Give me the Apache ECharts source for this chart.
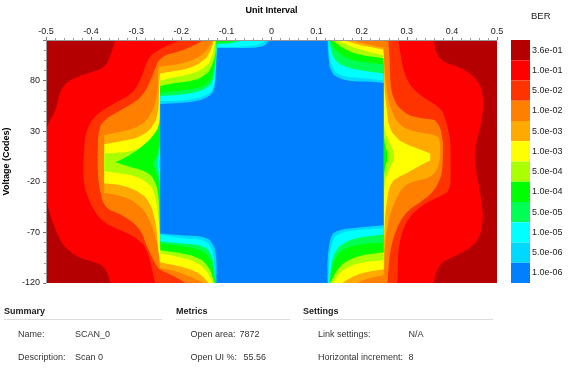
<!DOCTYPE html>
<html>
<head>
<meta charset="utf-8">
<style>html,body{margin:0;padding:0;background:#fff}#c{width:574px;height:370px}</style>
<script src="https://cdn.jsdelivr.net/npm/echarts@6/dist/echarts.min.js"></script>
</head>
<body>
<div id="c"></div>
<script>
const berLabels = ['3.6e-01','1.0e-01','5.0e-02','1.0e-02','5.0e-03','1.0e-03','5.0e-04','1.0e-04','5.0e-05','1.0e-05','5.0e-06','1.0e-06'];
const berColors = ['#b40000','#ff0000','#ff3300','#ff8000','#ffaa00','#ffff00','#aaff00','#00ff00','#00ff55','#00ffff','#00d9ff','#0080ff'];
const xTicks = {min:-0.5,max:0.5,step:0.1};
const yTicks = {min:-120,max:120,step:50};

// Contour boundaries: [unit interval, voltage code], top to bottom.
const edge1Left = [[-0.346,120],[-0.366,93],[-0.442,82],[-0.468,72.5],[-0.479,48],[-0.5,36],[-0.5,-35],[-0.49,-55],[-0.464,-82.7],[-0.431,-94.6],[-0.369,-102.5],[-0.357,-120]];
const edge1Right = [[0.359,120],[0.37,100],[0.425,92],[0.459,80],[0.47,65.6],[0.47,51],[0.463,34],[0.45,11],[0.452,-5.6],[0.463,-31],[0.47,-55],[0.463,-75],[0.441,-85.7],[0.397,-95.6],[0.374,-99.6],[0.359,-117.4],[0.361,-120]];
const edge2Left = [[-0.202,120],[-0.253,110],[-0.275,102],[-0.284,87],[-0.306,67.6],[-0.364,53.7],[-0.395,44],[-0.413,28],[-0.417,1],[-0.417,-21.4],[-0.406,-38],[-0.38,-58],[-0.346,-66],[-0.318,-71],[-0.291,-78],[-0.275,-87.7],[-0.267,-102.5],[-0.258,-120]];
const edge2Right = [[0.281,120],[0.292,90],[0.308,73.5],[0.345,60.7],[0.374,53.7],[0.385,44],[0.397,21],[0.397,-28.4],[0.381,-33],[0.341,-41],[0.308,-53],[0.29,-68],[0.281,-88],[0.279,-120]];
const edge3Left = [[-0.151,120],[-0.173,114],[-0.209,108],[-0.247,104],[-0.258,92],[-0.269,79],[-0.284,65.6],[-0.306,57.7],[-0.373,41],[-0.384,31],[-0.386,1],[-0.384,-21.4],[-0.371,-46],[-0.329,-53],[-0.291,-66],[-0.273,-88],[-0.253,-104.5],[-0.247,-107.5],[-0.218,-112.4],[-0.191,-120]];
const edge3Right = [[0.259,120],[0.263,93],[0.263,77.5],[0.27,60.7],[0.292,48],[0.323,43],[0.352,42],[0.37,40],[0.381,21],[0.379,-8.6],[0.374,-18.5],[0.357,-31],[0.337,-38],[0.297,-50],[0.275,-68],[0.263,-88],[0.259,-107.5],[0.257,-120]];
const edge4Left = [[-0.129,120],[-0.14,112],[-0.153,105],[-0.18,99],[-0.218,95],[-0.247,94],[-0.251,93],[-0.253,63.6],[-0.269,44],[-0.298,33],[-0.371,26],[-0.371,-31],[-0.329,-34],[-0.291,-43],[-0.269,-58],[-0.253,-81],[-0.248,-100.6],[-0.247,-105.5],[-0.213,-107.5],[-0.185,-113.4],[-0.165,-116.4],[-0.151,-120]];
const edge4Right = [[0.179,120],[0.208,116],[0.248,112.4],[0.25,100],[0.252,80],[0.259,60.7],[0.268,48],[0.279,38],[0.301,31],[0.337,28],[0.368,26],[0.374,21],[0.374,-1.6],[0.359,-15.5],[0.323,-18.5],[0.292,-23.4],[0.275,-38],[0.263,-51],[0.257,-65],[0.252,-78],[0.25,-107.5],[0.248,-112.4],[0.212,-115.4],[0.19,-120]];
const edge5Left = [[-0.127,120],[-0.136,107],[-0.151,99],[-0.18,92],[-0.218,89],[-0.247,87],[-0.248,85],[-0.251,48],[-0.262,34],[-0.291,24],[-0.32,21],[-0.371,17],[-0.371,-21.4],[-0.329,-23.4],[-0.291,-30.3],[-0.269,-40],[-0.256,-61],[-0.251,-87.7],[-0.247,-99.6],[-0.202,-103.5],[-0.173,-107.5],[-0.153,-112.4],[-0.14,-120]];
const edge5Right = [[0.159,120],[0.186,116],[0.219,113],[0.248,110.6],[0.2494,100],[0.25,75.5],[0.252,63.6],[0.257,48],[0.259,34],[0.275,24],[0.292,18],[0.323,13],[0.352,8],[0.352,1],[0.33,-3.6],[0.301,-11.5],[0.279,-15.5],[0.263,-21.4],[0.257,-35.3],[0.252,-53],[0.2497,-78],[0.249,-106.5],[0.204,-109.5],[0.175,-114.4],[0.157,-120]];
const edge6Left = [[-0.125,120],[-0.131,102],[-0.147,92],[-0.18,86],[-0.218,83],[-0.247,80],[-0.2475,78],[-0.2476,28],[-0.258,21],[-0.284,14],[-0.32,9],[-0.371,8],[-0.371,-9.6],[-0.306,-13.5],[-0.273,-20.4],[-0.258,-31.3],[-0.251,-55],[-0.2476,-71],[-0.2466,-90.7],[-0.202,-94.6],[-0.169,-98.6],[-0.147,-105.5],[-0.136,-114.4],[-0.13,-120]];
const edge6Right = [[0.141,120],[0.164,116],[0.197,110],[0.248,105],[0.2492,100],[0.2492,31],[0.257,24],[0.263,18],[0.275,4],[0.268,-1.6],[0.257,-11.5],[0.25,-21.4],[0.2492,-38],[0.249,-97.6],[0.197,-99.6],[0.168,-104.5],[0.148,-110.4],[0.137,-120]];
const edge7Left = [[-0.124,120],[-0.122,110],[-0.131,94],[-0.147,84],[-0.18,79],[-0.218,77.5],[-0.2466,74.5],[-0.2472,72.5],[-0.2476,36],[-0.258,28],[-0.275,19],[-0.314,6],[-0.346,-0.7],[-0.314,-5.6],[-0.275,-9.6],[-0.258,-18.5],[-0.25,-33.3],[-0.2476,-68],[-0.2466,-87.7],[-0.196,-90.7],[-0.163,-94.6],[-0.142,-101.5],[-0.131,-112.4],[-0.127,-120]];
const edge7Right = [[0.133,120],[0.146,116],[0.164,110],[0.197,105],[0.248,102],[0.249,100],[0.249,21],[0.255,11],[0.258,6],[0.255,-1.6],[0.249,-10.5],[0.249,-89.7],[0.197,-92.6],[0.168,-97.6],[0.146,-105.5],[0.133,-117.4],[0.13,-120]];
const edge8Left = [[-0.074,120],[-0.091,118],[-0.122,117.5],[-0.122,109],[-0.129,85],[-0.142,75.5],[-0.173,71.5],[-0.209,69.6],[-0.2466,67.6],[-0.247,65.6],[-0.2472,16],[-0.258,1.3],[-0.264,-1.6],[-0.256,-10.5],[-0.2472,-23.4],[-0.2466,-81.3],[-0.196,-83.7],[-0.158,-86.7],[-0.138,-93.6],[-0.129,-105.5],[-0.126,-120]];
const edge8Right = [[0.129,120],[0.137,113],[0.148,107],[0.175,100],[0.212,97.7],[0.248,96],[0.2488,94],[0.2488,-80],[0.19,-82],[0.159,-85.7],[0.141,-94.6],[0.133,-105.5],[0.129,-120]];
const edge9Left = [[-0.065,120],[-0.069,119],[-0.087,116.5],[-0.122,116],[-0.122,109],[-0.129,80],[-0.14,72.5],[-0.173,67.6],[-0.209,65.6],[-0.2466,64.6],[-0.247,62.6],[-0.247,11],[-0.253,3],[-0.252,-8.6],[-0.247,-16.5],[-0.2466,-79],[-0.196,-81],[-0.151,-82.7],[-0.134,-89.7],[-0.127,-102.5],[-0.125,-120]];
const edge9Right = [[0.127,120],[0.133,107],[0.141,99],[0.164,93],[0.197,90],[0.248,87],[0.2488,85],[0.2488,-72],[0.19,-75],[0.159,-80],[0.141,-87.7],[0.133,-99.6],[0.128,-120]];
const edge10Left = [[-0.009,120],[-0.014,119],[-0.029,115],[-0.069,113],[-0.121,113],[-0.121,109],[-0.127,72.5],[-0.14,65.6],[-0.173,61.6],[-0.209,59.7],[-0.2466,59.7],[-0.2468,57.7],[-0.2468,6],[-0.249,1.3],[-0.249,-6.6],[-0.2466,-10.5],[-0.2466,-72.4],[-0.196,-76],[-0.151,-77],[-0.134,-82.7],[-0.127,-95.6],[-0.125,-120]];
const edge10Right = [[0.126,120],[0.128,102],[0.135,92],[0.148,85],[0.181,83],[0.219,81.7],[0.248,80],[0.2488,78],[0.2488,-66],[0.181,-68],[0.146,-71],[0.135,-78],[0.128,-92.6],[0.126,-120]];
const edge11Left = [[-0.005,120],[-0.007,118],[-0.02,112.6],[-0.058,112],[-0.12,112],[-0.121,110],[-0.125,72.5],[-0.136,63.6],[-0.173,58.7],[-0.209,57.7],[-0.2466,56.7],[-0.2466,-71],[-0.196,-73],[-0.147,-74],[-0.129,-80],[-0.122,-92.6],[-0.122,-120]];
const edge11Right = [[0.124,120],[0.127,99],[0.13,89],[0.146,82],[0.181,79],[0.219,79],[0.2486,77.5],[0.2486,-63],[0.181,-65.6],[0.141,-68],[0.13,-75],[0.124,-95.6],[0.124,-120]];

const edgesLeft = [edge1Left,edge2Left,edge3Left,edge4Left,edge5Left,edge6Left,edge7Left,edge8Left,edge9Left,edge10Left,edge11Left];
const edgesRight = [edge1Right,edge2Right,edge3Right,edge4Right,edge5Right,edge6Right,edge7Right,edge8Right,edge9Right,edge10Right,edge11Right];

const summaryRows = [['Name:','SCAN_0'],['Description:','Scan 0']];
const metricsRows = [['Open area:','7872'],['Open UI %:','55.56']];
const settingsRows = [['Link settings:','N/A'],['Horizontal increment:','8']];

const font = '"Liberation Sans", Arial, sans-serif';
const chart = echarts.init(document.getElementById('c'), null, {renderer:'canvas'});

// Round gentle polyline corners on screen (cut back at most maxCut pixels); hard corners stay sharp.
const hardTurn = 62 * Math.PI / 180;
function roundCorners(pts, maxCut){
  const out = [pts[0]];
  for (let i = 1; i < pts.length - 1; i++) {
    const p = pts[i], a = pts[i-1], b = pts[i+1];
    const la = Math.hypot(p[0]-a[0], p[1]-a[1]), lb = Math.hypot(p[0]-b[0], p[1]-b[1]);
    if (la < 0.01 || lb < 0.01) { out.push(p); continue; }
    const dot = ((p[0]-a[0])*(b[0]-p[0]) + (p[1]-a[1])*(b[1]-p[1])) / (la*lb);
    if (Math.acos(Math.max(-1, Math.min(1, dot))) > hardTurn) { out.push(p); continue; }
    const ca = Math.min(maxCut, la*0.4)/la, cb = Math.min(maxCut, lb*0.4)/lb;
    out.push([p[0]+(a[0]-p[0])*ca, p[1]+(a[1]-p[1])*ca]);
    out.push([p[0]+(b[0]-p[0])*cb, p[1]+(b[1]-p[1])*cb]);
  }
  out.push(pts[pts.length-1]);
  return out;
}
function smoothEdge(edge, api){
  let pts = edge.map(p => api.coord(p));
  pts = roundCorners(pts, 5);
  pts = roundCorners(pts, 2.5);
  return roundCorners(pts, 1.2);
}

const bandSeries = edgesLeft.map((left, i) => {
  const right = edgesRight[i];
  return {
    type:'custom', coordinateSystem:'cartesian2d', xAxisIndex:0, yAxisIndex:0,
    clip:true, silent:true, z:2+i, data:left.concat(right), encode:{x:0,y:1},
    renderItem:(params, api) => {
      if (params.dataIndex !== 0) return null;
      const outline = smoothEdge(left, api).concat(smoothEdge(right, api).reverse());
      return {type:'polygon', shape:{points:outline}, style:{fill:berColors[i+1], stroke:null}};
    }
  };
});

function text(x, y, t, bold){
  return {type:'text', x, y, silent:true, style:{text:t, fill:bold?'#1a1a1a':'#333', font:(bold?'bold ':'')+'9px '+font, textVerticalAlign:'middle'}};
}
function rule(x1, x2, y){
  return {type:'line', silent:true, shape:{x1, y1:y, x2, y2:y}, style:{stroke:'#dcdcdc', lineWidth:1}};
}
const rowYs = [335, 358];
const graphics = [
  text(4,312,'Summary',true), rule(4,162,319.5),
  text(176,312,'Metrics',true), rule(176,290,319.5),
  text(303,312,'Settings',true), rule(303,493,319.5),
  {type:'text', x:531, y:16, silent:true, style:{text:'BER', fill:'#222', font:'9.5px '+font, textVerticalAlign:'middle'}}
];
summaryRows.forEach((r,i)=>{graphics.push(text(18,rowYs[i],r[0]),text(75,rowYs[i],r[1]));});
metricsRows.forEach((r,i)=>{graphics.push(text(190.5,rowYs[i],r[0]),text(i?243.5:239.5,rowYs[i],r[1]));});
settingsRows.forEach((r,i)=>{graphics.push(text(318,rowYs[i],r[0]),text(408.5,rowYs[i],r[1]));});

chart.setOption({
  animation:false,
  backgroundColor:'#fff',
  grid:[
    {left:46,right:77,top:40,bottom:87,show:true,backgroundColor:berColors[0],borderWidth:0,outerBoundsMode:'none'},
    {left:511,width:19,top:40,bottom:87,show:false,outerBoundsMode:'none'}
  ],
  xAxis:[
    {gridIndex:0,type:'value',position:'top',min:xTicks.min,max:xTicks.max,interval:xTicks.step,
     name:'Unit Interval',nameLocation:'middle',nameGap:25,
     nameTextStyle:{fontWeight:'bold',fontSize:9,fontFamily:font,color:'#000'},
     axisLine:{show:true,onZero:false,lineStyle:{color:'#999',width:1}},
     axisTick:{show:true,length:3,lineStyle:{color:'#777'}},
     minorTick:{show:true,splitNumber:5,length:2,lineStyle:{color:'#999'}},
     axisLabel:{fontFamily:font,fontSize:9,color:'#222',margin:4,formatter:v=>String(+v.toFixed(1))},
     splitLine:{show:false},z:20},
    {gridIndex:1,type:'value',min:0,max:1,show:false}
  ],
  yAxis:[
    {gridIndex:0,type:'value',min:yTicks.min,max:yTicks.max,interval:yTicks.step,
     name:'Voltage (Codes)',nameLocation:'middle',nameGap:29,nameRotate:90,
     nameTextStyle:{fontWeight:'bold',fontSize:9,fontFamily:font,color:'#000'},
     axisLine:{show:true,onZero:false,lineStyle:{color:'#999',width:1}},
     axisTick:{show:true,length:3,lineStyle:{color:'#777'}},
     minorTick:{show:true,splitNumber:5,length:2,lineStyle:{color:'#999'}},
     axisLabel:{fontFamily:font,fontSize:9,color:'#222',margin:6,showMaxLabel:false,formatter:v=>v===120?'':String(v)},
     splitLine:{show:false},z:20},
    {gridIndex:1,type:'category',inverse:true,position:'right',data:berLabels,
     axisLine:{show:false},axisTick:{show:false},
     axisLabel:{fontFamily:font,fontSize:9,color:'#222',margin:2}}
  ],
  series:bandSeries.concat([{
    type:'bar',xAxisIndex:1,yAxisIndex:1,barWidth:'100%',silent:true,
    data:berLabels.map((l,i)=>({value:1,itemStyle:{color:berColors[i]}}))
  }]),
  graphic:graphics
});
</script>
</body>
</html>
